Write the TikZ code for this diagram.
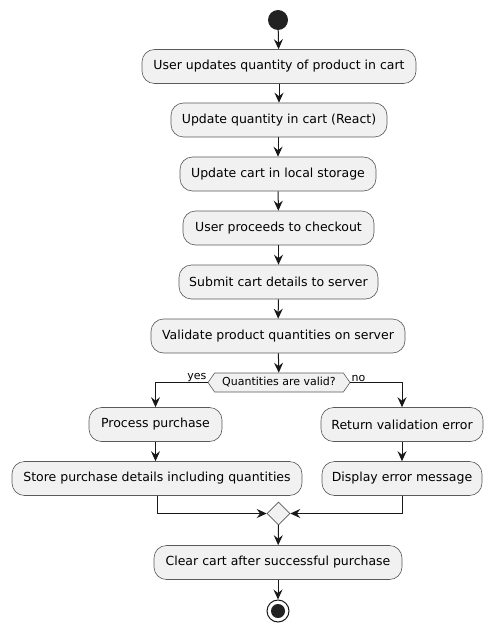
\documentclass[tikz,border=0pt]{standalone}
\usepackage{fontspec}
\setmainfont{DejaVu Sans}
\usetikzlibrary{arrows.meta,shapes.geometric,shapes.symbols}
\definecolor{boxfill}{HTML}{F1F1F1}
\definecolor{linec}{HTML}{181818}
\definecolor{borderc}{HTML}{5A5A5A}
\definecolor{dotc}{HTML}{222222}
\tikzset{
  act/.style={rectangle, rounded corners=12.5pt, draw=borderc, fill=boxfill, line width=0.6pt,
    minimum height=34pt, inner xsep=0pt, inner ysep=0pt, font=\fontsize{12.5}{15}\selectfont, text=black},
  arr/.style={draw=linec, line width=1pt, -{Stealth[length=10pt,width=9pt,inset=3.5pt]}},
  ln/.style={draw=linec, line width=1pt},
  lbl/.style={font=\fontsize{11}{13}\selectfont, inner sep=0pt, text=black}
}
\begin{document}
\begin{tikzpicture}[x=1pt,y=-1pt]
\useasboundingbox (0,0) rectangle (492,631);
\node[circle, fill=dotc, minimum size=20pt, inner sep=0pt] (start) at (278,20) {};
\node[act, minimum width=274pt] (a1) at (279,66.5) {User updates quantity of product in cart};
\node[act, minimum width=216pt] (a2) at (279,120) {Update quantity in cart (React)};
\node[act, minimum width=196pt] (a3) at (278,174) {Update cart in local storage};
\node[act, minimum width=191pt] (a4) at (278.5,228) {User proceeds to checkout};
\node[act, minimum width=199pt] (a5) at (278.5,282) {Submit cart details to server};
\node[act, minimum width=254pt] (a6) at (278,336) {Validate product quantities on server};
\node[signal, signal to=west and east, signal pointer angle=110, draw=borderc, fill=boxfill, line width=0.6pt,
  minimum width=142pt, minimum height=19pt, inner xsep=1pt, inner ysep=0pt, font=\fontsize{11}{13}\selectfont] (dec) at (279,382.5) {Quantities are valid?};
\node[act, minimum width=133pt] (pp) at (155.5,424.5) {Process purchase};
\node[act, minimum width=162pt] (rv) at (402,424.5) {Return validation error};
\node[act, minimum width=290pt] (spd) at (157,478.5) {Store purchase details including quantities};
\node[act, minimum width=160pt] (dem) at (402,478.5) {Display error message};
\node[diamond, draw=borderc, fill=boxfill, line width=0.6pt, minimum width=23pt, minimum height=23pt, inner sep=0pt] (mg) at (278.5,513.5) {};
\node[act, minimum width=248pt] (cc) at (278,562.5) {Clear cart after successful purchase};
\node[circle, draw=linec, fill=white, line width=1pt, minimum size=22pt, inner sep=0pt] (stop) at (278,611) {};
\node[circle, fill=dotc, minimum size=14pt, inner sep=0pt] (stopin) at (stop.center) {};

\draw[arr] (start) -- (a1);
\draw[arr] (a1) -- (a2);
\draw[arr] (a2.south -| a3.north) -- (a3);
\draw[arr] (a3) -- (a4);
\draw[arr] (a4) -- (a5);
\draw[arr] (a5) -- (a6);
\draw[arr] (a6) -- (dec);
\draw[arr] (dec.west) -| (pp.north);
\draw[arr] (dec.east) -| (rv.north);
\node[lbl, anchor=south east] (yes) at ([xshift=-1pt,yshift=1pt]dec.west) {yes};
\node[lbl, anchor=south west] (no) at ([xshift=1pt,yshift=1pt]dec.east) {no};
\draw[arr] (pp) -- (pp.south |- spd.north);
\draw[arr] (rv) -- (dem);
\draw[arr] (spd.south) |- (mg.west);
\draw[arr] (dem.south) |- (mg.east);
\draw[arr] (mg) -- (cc);
\draw[arr] (cc) -- (stop);
\end{tikzpicture}
\end{document}
